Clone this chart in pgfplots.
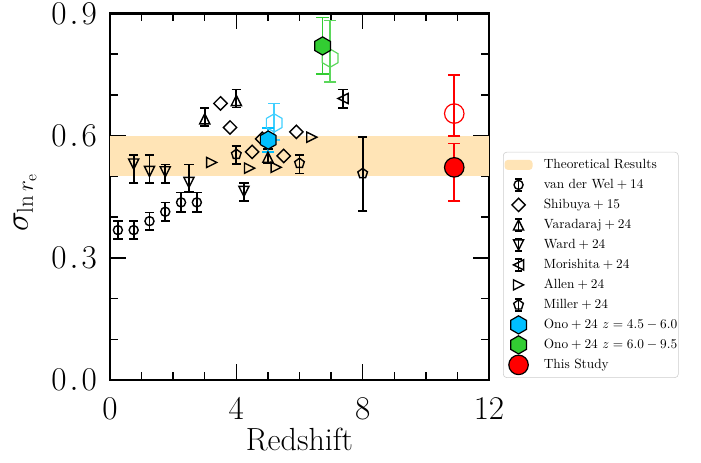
\documentclass[border=0pt]{standalone}
\usepackage{pgfplots}
\pgfplotsset{compat=1.18}
\usetikzlibrary{plotmarks}
\definecolor{band}{RGB}{255,228,182}
\definecolor{ocyan}{RGB}{0,191,255}
\definecolor{ogreen}{RGB}{50,205,50}
\definecolor{ored}{RGB}{255,0,0}

\pgfdeclareplotmark{mtri}{%
  \pgfpathmoveto{\pgfqpoint{0pt}{\pgfplotmarksize}}%
  \pgfpathlineto{\pgfqpoint{-\pgfplotmarksize}{-\pgfplotmarksize}}%
  \pgfpathlineto{\pgfqpoint{\pgfplotmarksize}{-\pgfplotmarksize}}%
  \pgfpathclose\pgfusepathqstroke}
\pgfdeclareplotmark{mdiam}{%
  \pgfpathmoveto{\pgfqpoint{0pt}{\pgfplotmarksize}}%
  \pgfpathlineto{\pgfqpoint{\pgfplotmarksize}{0pt}}%
  \pgfpathlineto{\pgfqpoint{0pt}{-\pgfplotmarksize}}%
  \pgfpathlineto{\pgfqpoint{-\pgfplotmarksize}{0pt}}%
  \pgfpathclose\pgfusepathqstroke}
\pgfdeclareplotmark{hexa}{%
  \pgfpathmoveto{\pgfqpoint{0pt}{\pgfplotmarksize}}%
  \pgfpathlineto{\pgfqpoint{0.866\pgfplotmarksize}{0.5\pgfplotmarksize}}%
  \pgfpathlineto{\pgfqpoint{0.866\pgfplotmarksize}{-0.5\pgfplotmarksize}}%
  \pgfpathlineto{\pgfqpoint{0pt}{-\pgfplotmarksize}}%
  \pgfpathlineto{\pgfqpoint{-0.866\pgfplotmarksize}{-0.5\pgfplotmarksize}}%
  \pgfpathlineto{\pgfqpoint{-0.866\pgfplotmarksize}{0.5\pgfplotmarksize}}%
  \pgfpathclose\pgfusepathqstroke}
\pgfdeclareplotmark{hexa*}{%
  \pgfpathmoveto{\pgfqpoint{0pt}{\pgfplotmarksize}}%
  \pgfpathlineto{\pgfqpoint{0.866\pgfplotmarksize}{0.5\pgfplotmarksize}}%
  \pgfpathlineto{\pgfqpoint{0.866\pgfplotmarksize}{-0.5\pgfplotmarksize}}%
  \pgfpathlineto{\pgfqpoint{0pt}{-\pgfplotmarksize}}%
  \pgfpathlineto{\pgfqpoint{-0.866\pgfplotmarksize}{-0.5\pgfplotmarksize}}%
  \pgfpathlineto{\pgfqpoint{-0.866\pgfplotmarksize}{0.5\pgfplotmarksize}}%
  \pgfpathclose\pgfusepathqfillstroke}

\pgfplotsset{
  eb/.style={error bars/y dir=both, error bars/y explicit,
    error bars/error mark=-,
    error bars/error bar style={line width=1.3pt, #1},
    error bars/error mark options={rotate=90, line width=1.3pt, #1, mark size=3.5pt}},
  ebc/.style={error bars/y dir=both, error bars/y explicit,
    error bars/error mark=-,
    error bars/error bar style={line width=1.2pt, #1},
    error bars/error mark options={rotate=90, line width=1.2pt, #1, mark size=4.6pt}},
  errleg/.style={legend image code/.code={
    \draw[line width=1.1pt, #1] (10.5pt,-4.5pt) -- (10.5pt,4.5pt)
      (8pt,-4.5pt) -- (13pt,-4.5pt) (8pt,4.5pt) -- (13pt,4.5pt);
    \draw[##1] plot coordinates {(10.5pt,0pt)};
    \path (0pt,0pt) (21pt,0pt);
  }},
  mkleg/.style={legend image code/.code={
    \draw[##1] plot coordinates {(10.5pt,0pt)};
    \path (0pt,0pt) (21pt,0pt);
  }},
}

\pgfplotstableread{
x y ep em
0.25 0.368 0.022 0.022
0.75 0.368 0.022 0.022
1.25 0.390 0.021 0.021
1.75 0.413 0.023 0.022
2.25 0.436 0.024 0.023
2.75 0.436 0.024 0.023
}\vdw
\pgfplotstableread{
x y
3.5 0.679
3.8 0.620
4.5 0.560
4.82 0.592
5.5 0.550
5.9 0.609
}\shibuya
\pgfplotstableread{
x y ep em
3.0 0.641 0.026 0.018
4.0 0.686 0.027 0.017
5.0 0.547 0.020 0.015
}\varadaraj
\pgfplotstableread{
x y ep em
0.75 0.530 0.022 0.046
1.25 0.512 0.040 0.028
1.75 0.511 0.018 0.027
2.5 0.485 0.044 0.024
4.24 0.463 0.020 0.023
}\ward
\pgfplotstableread{
x y ep em
7.38 0.691 0.022 0.023
}\morishita
\pgfplotstableread{
x y
3.22 0.534
4.42 0.520
5.26 0.522
6.39 0.596
}\allen
\pgfplotstableread{
x y ep em
4.0 0.554 0.020 0.023
6.0 0.532 0.020 0.025
8.0 0.507 0.090 0.092
}\miller
\pgfplotstableread{
x y ep em
5.01 0.589 0.029 0.029
}\onocf
\pgfplotstableread{
x y ep em
5.2 0.631 0.048 0.042
}\onoco
\pgfplotstableread{
x y ep em
6.73 0.820 0.070 0.069
}\onogf
\pgfplotstableread{
x y ep em
6.97 0.790 0.092 0.058
}\onogo
\pgfplotstableread{
x y ep em
10.9 0.522 0.059 0.082
}\studyf
\pgfplotstableread{
x y ep em
10.9 0.654 0.095 0.055
}\studyo

\begin{document}
\begin{tikzpicture}
\begin{axis}[
  at={(0,0)}, anchor=south west,
  scale only axis, width=284.25pt, height=275pt,
  xmin=0, xmax=12, ymin=0, ymax=0.9,
  xtick={0,4,8,12}, ytick={0,0.3,0.6,0.9},
  yticklabels={$0\kern2.2pt.\kern2.2pt0$, $0\kern2.2pt.\kern2.2pt3$, $0\kern2.2pt.\kern2.2pt6$, $0\kern2.2pt.\kern2.2pt9$},
  minor xtick={1,2,3,5,6,7,9,10,11},
  minor ytick={0.1,0.2,0.4,0.5,0.7,0.8},
  tick align=inside, xtick pos=both, ytick pos=both,
  major tick length=12pt, minor tick length=6pt,
  every tick/.append style={black, line width=1.1pt},
  axis line style={line width=2.2pt},
  clip=false,
  tick label style={font=\fontsize{28}{32}\selectfont},
  yticklabel style={anchor=east, inner sep=0pt, xshift=-9.75pt},
  xticklabel style={anchor=base, inner sep=0pt, yshift=-29.25pt},
  xlabel={Redshift}, ylabel={$\sigma_{\ln r_{\mathrm{e}}}$},
  label style={font=\fontsize{24}{28}\selectfont},
  xlabel style={at={(axis description cs:0.5,0)}, anchor=base, yshift=-52.5pt},
  ylabel style={at={(axis description cs:-0.2164,0.484)}, anchor=base},
  legend style={at={(1.037,0.622)}, anchor=north west, draw=black!20,
    rounded corners=2.5pt, fill=white, inner xsep=0.75pt, inner ysep=2pt,
    font=\fontsize{10}{12}\selectfont, row sep=0pt,
    nodes={inner sep=0pt, text height=10pt, text depth=5pt},
    /tikz/every odd column/.append style={column sep=8.25pt},
    /tikz/every even column/.append style={column sep=3.5pt}},
  legend cell align=left,
]
\addplot[draw=none, fill=band, legend image code/.code={\fill[band] (0pt,-3.75pt) rectangle (21pt,3.75pt); \path (0pt,0pt) (21pt,0pt);}]
  coordinates {(0,0.5) (12,0.5) (12,0.6) (0,0.6)} -- cycle;
\addlegendentry{Theoretical Results}

\addplot[only marks, mark=o, mark size=3.4pt, mark options={black, line width=1.05pt}, eb=black, errleg=black]
  table[x=x, y=y, y error plus=ep, y error minus=em] {\vdw};
\addlegendentry{van der Wel${}+{}$14}

\addplot[only marks, mark=mdiam, mark size=5pt, mark options={black, line width=1.05pt}, mkleg]
  table[x=x, y=y] {\shibuya};
\addlegendentry{Shibuya${}+{}$15}

\addplot[only marks, mark=mtri, mark size=3.8pt, mark options={black, line width=1.05pt}, eb=black, errleg=black]
  table[x=x, y=y, y error plus=ep, y error minus=em] {\varadaraj};
\addlegendentry{Varadaraj${}+{}$24}

\addplot[only marks, mark=mtri, mark size=3.8pt, mark options={black, line width=1.05pt, rotate=180}, eb=black, errleg=black]
  table[x=x, y=y, y error plus=ep, y error minus=em] {\ward};
\addlegendentry{Ward${}+{}$24}

\addplot[only marks, mark=mtri, mark size=3.8pt, mark options={black, line width=1.05pt, rotate=90}, eb=black, errleg=black]
  table[x=x, y=y, y error plus=ep, y error minus=em] {\morishita};
\addlegendentry{Morishita${}+{}$24}

\addplot[only marks, mark=mtri, mark size=3.8pt, mark options={black, line width=1.05pt, rotate=-90}, mkleg]
  table[x=x, y=y] {\allen};
\addlegendentry{Allen${}+{}$24}

\addplot[only marks, mark=pentagon, mark size=3.8pt, mark options={black, line width=1.05pt}, eb=black, errleg=black]
  table[x=x, y=y, y error plus=ep, y error minus=em] {\miller};
\addlegendentry{Miller${}+{}$24}

\addplot[forget plot, only marks, mark=hexa, mark size=6.8pt, mark options={ocyan!75, line width=0.9pt}, ebc=ocyan!75]
  table[x=x, y=y, y error plus=ep, y error minus=em] {\onoco};
\addplot[only marks, mark=hexa*, mark size=6.8pt, mark options={draw=black, fill=ocyan, line width=0.9pt}, ebc=ocyan, errleg=ocyan]
  table[x=x, y=y, y error plus=ep, y error minus=em] {\onocf};
\addlegendentry{Ono${}+{}$24 $z=4.5-6.0$}

\addplot[forget plot, only marks, mark=hexa, mark size=6.8pt, mark options={ogreen!80, line width=0.9pt}, ebc=ogreen!80]
  table[x=x, y=y, y error plus=ep, y error minus=em] {\onogo};
\addplot[only marks, mark=hexa*, mark size=6.8pt, mark options={draw=black, fill=ogreen, line width=0.9pt}, ebc=ogreen, errleg=ogreen]
  table[x=x, y=y, y error plus=ep, y error minus=em] {\onogf};
\addlegendentry{Ono${}+{}$24 $z=6.0-9.5$}

\addplot[forget plot, only marks, mark=o, mark size=7.3pt, mark options={ored, line width=0.9pt}, ebc=ored]
  table[x=x, y=y, y error plus=ep, y error minus=em] {\studyo};
\addplot[only marks, mark=*, mark size=7.3pt, mark options={draw=black, fill=ored, line width=0.9pt}, ebc=ored, errleg=ored]
  table[x=x, y=y, y error plus=ep, y error minus=em] {\studyf};
\addlegendentry{This Study}
\end{axis}
\path (-82.5pt,-61.5pt) rectangle (443.25pt,285pt);
\end{tikzpicture}
\end{document}
